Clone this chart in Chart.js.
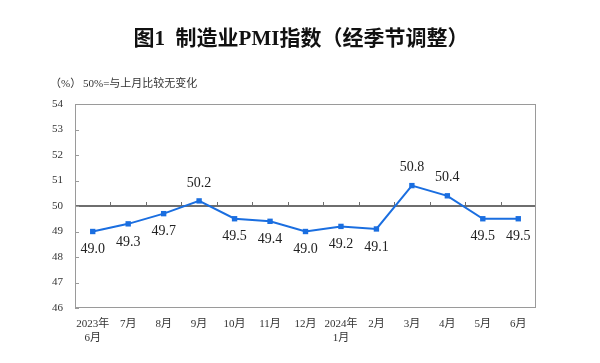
<!DOCTYPE html>
<html>
<head>
<meta charset="utf-8">
<script src="https://cdn.jsdelivr.net/npm/chart.js@4.4.1/dist/chart.umd.min.js"></script>
<style>
  body { margin: 0; background: #fff; }
</style>
</head>
<body>
<canvas id="pmiChart" width="600" height="363"></canvas>
<script>
// 月份标签（多行的用数组）
var months = [['2023年', '6月'], '7月', '8月', '9月', '10月', '11月', '12月', ['2024年', '1月'], '2月', '3月', '4月', '5月', '6月'];
// 制造业PMI
var pmi = [49.0, 49.3, 49.7, 50.2, 49.5, 49.4, 49.0, 49.2, 49.1, 50.8, 50.4, 49.5, 49.5];
var yMin = 46, yMax = 54, yStep = 1;
var baseLine = 50;

var serif = '"Liberation Serif", "Noto Sans CJK SC", serif';
var blue = '#1a6ee0';

var decor = {
    id: 'decor',
    beforeDatasetsDraw: function (chart) {
        var ctx = chart.ctx, a = chart.chartArea, x = chart.scales.x, y = chart.scales.y;
        ctx.save();
        ctx.strokeStyle = '#9a9a9a';
        ctx.lineWidth = 1;
        ctx.strokeRect(a.left + 0.5, a.top + 0.5, a.right - a.left - 1, a.bottom - a.top - 1);
        // y ticks pointing in
        ctx.beginPath();
        y.ticks.forEach(function (t) {
            var py = Math.round(y.getPixelForValue(t.value)) + 0.5;
            ctx.moveTo(a.left, py);
            ctx.lineTo(a.left + 4, py);
        });
        ctx.stroke();
        // x ticks sitting on the 50 line
        var y50 = y.getPixelForValue(baseLine);
        ctx.strokeStyle = '#6e6e6e';
        ctx.beginPath();
        for (var i = 1; i < pmi.length; i++) {
            var px = Math.round((x.getPixelForValue(i - 1) + x.getPixelForValue(i)) / 2) + 0.5;
            ctx.moveTo(px, y50);
            ctx.lineTo(px, y50 - 4);
        }
        ctx.stroke();
        ctx.restore();
    },
    afterDatasetsDraw: function (chart) {
        var ctx = chart.ctx;
        var meta = chart.getDatasetMeta(0);
        ctx.save();
        ctx.font = '14px ' + serif;
        ctx.fillStyle = '#222';
        ctx.textAlign = 'center';
        ctx.textBaseline = 'middle';
        meta.data.forEach(function (pt, i) {
            var v = pmi[i];
            var dy = v > baseLine ? -18 : 18;
            ctx.fillText(v.toFixed(1), pt.x, pt.y + dy);
        });
        ctx.restore();
    },
    afterDraw: function (chart) {
        var ctx = chart.ctx;
        ctx.save();
        ctx.fillStyle = '#111';
        ctx.textBaseline = 'middle';
        ctx.textAlign = 'center';
        ctx.font = 'bold 21px "Liberation Serif", "Noto Sans CJK SC", serif';
        ctx.fillText('图1  制造业PMI指数（经季节调整）', 301, 40);
        ctx.textAlign = 'left';
        ctx.fillStyle = '#333';
        ctx.font = '11px ' + serif;
        ctx.fillText('（%）', 50, 84);
        ctx.fillText('50%=与上月比较无变化', 83, 84);
        ctx.restore();
    }
};

var ctx = document.getElementById('pmiChart').getContext('2d');
var myChart = new Chart(ctx, {
    type: 'line',
    data: {
        labels: months,
        datasets: [{
            data: pmi,
            borderColor: blue,
            backgroundColor: blue,
            borderWidth: 2,
            pointStyle: 'rect',
            pointRadius: 3.8,
            pointBackgroundColor: blue,
            pointBorderWidth: 0,
            tension: 0,
            fill: false
        }]
    },
    options: {
        responsive: false,
        animation: false,
        layout: { padding: { top: 104, right: 64, left: 0, bottom: 0 } },
        plugins: {
            legend: { display: false },
            tooltip: { enabled: false }
        },
        scales: {
            x: {
                offset: true,
                grid: { display: false, drawTicks: false },
                border: { display: false },
                ticks: {
                    color: '#333',
                    font: { family: serif, size: 11 },
                    padding: 10,
                    maxRotation: 0,
                    autoSkip: false
                },
                afterFit: function (s) { s.height = 55; }
            },
            y: {
                min: yMin,
                max: yMax,
                grid: {
                    drawTicks: false,
                    color: function (c) { return c.tick && c.tick.value === baseLine ? '#6e6e6e' : 'rgba(0,0,0,0)'; },
                    lineWidth: function (c) { return c.tick && c.tick.value === baseLine ? 2 : 0; }
                },
                border: { display: false },
                ticks: {
                    stepSize: yStep,
                    color: '#333',
                    font: { family: serif, size: 11 },
                    padding: 12
                },
                afterFit: function (s) { s.width = 75; }
            }
        }
    },
    plugins: [decor]
});
</script>
</body>
</html>
